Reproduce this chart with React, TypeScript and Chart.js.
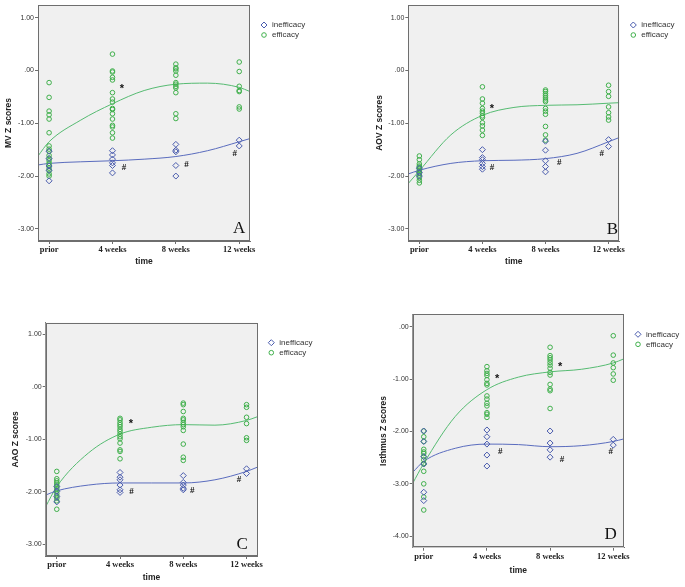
import React, { useEffect, useRef } from 'react';
import { Chart, registerables } from 'chart.js';

Chart.register(...registerables);

// ---------- shared data ----------
const categories = ['prior', '4 weeks', '8 weeks', '12 weeks'];
const legendLabels = ['inefficacy', 'efficacy'];
const xTickValues = [0, 1, 2, 3];
const fitX = [-0.175, 0, 0.5, 1, 1.5, 2, 2.5, 3, 3.17];
const yTicksABC = [1, 0, -1, -2, -3];
const yTicksD = [0, -1, -2, -3, -4];

// ---------- Panel A : MV ----------
const mvInefficacy = [
  [-1.53, -1.67, -1.81, -1.89, -2.09],
  [-1.52, -1.6, -1.68, -1.75, -1.8, -1.94],
  [-1.4, -1.51, -1.54, -1.8, -2.0],
  [-1.32, -1.43],
];
const mvEfficacy = [
  [-0.23, -0.51, -0.77, -0.84, -0.92, -1.18, -1.43, -1.49, -1.53, -1.61, -1.66, -1.71, -1.76, -1.8, -1.85, -1.9, -1.96, -2.0],
  [0.31, -0.01, -0.03, -0.13, -0.18, -0.42, -0.54, -0.6, -0.72, -0.74, -0.82, -0.92, -1.04, -1.07, -1.18, -1.28],
  [0.12, 0.05, 0.03, -0.01, -0.09, -0.23, -0.26, -0.3, -0.33, -0.42, -0.82, -0.91],
  [0.16, -0.02, -0.3, -0.38, -0.4, -0.69, -0.73],
];
const mvInefficacyFit = [-1.79, -1.76, -1.73, -1.71, -1.68, -1.63, -1.52, -1.35, -1.29];
const mvEfficacyFit = [-1.62, -1.35, -0.94, -0.63, -0.38, -0.26, -0.24, -0.32, -0.4];
const mvStars = [[1.15, -0.31]];
const mvHashes = [[1.18, -1.85], [2.17, -1.78], [2.93, -1.57]];
const mvLetterAt = [3.0, -3.0];

// ---------- Panel B : AOV ----------
const aovInefficacy = [
  [-1.85, -1.93, -2.0],
  [-1.5, -1.65, -1.69, -1.76, -1.82, -1.87],
  [-1.34, -1.51, -1.71, -1.82, -1.92],
  [-1.31, -1.44],
];
const aovEfficacy = [
  [-1.62, -1.69, -1.77, -1.81, -1.83, -1.86, -1.89, -1.92, -1.95, -1.98, -2.03, -2.08, -2.13],
  [-0.31, -0.54, -0.62, -0.72, -0.77, -0.81, -0.86, -0.89, -0.99, -1.05, -1.13, -1.23],
  [-0.37, -0.4, -0.44, -0.48, -0.52, -0.56, -0.59, -0.72, -0.77, -0.83, -1.06, -1.22, -1.32],
  [-0.28, -0.4, -0.49, -0.69, -0.8, -0.88, -0.94],
];
const aovInefficacyFit = [-1.96, -1.89, -1.76, -1.71, -1.7, -1.67, -1.57, -1.35, -1.27];
const aovEfficacyFit = [-2.14, -1.9, -1.22, -0.85, -0.7, -0.66, -0.65, -0.62, -0.61];
const aovStars = [[1.15, -0.69]];
const aovHashes = [[1.15, -1.84], [2.22, -1.74], [2.89, -1.57]];
const aovLetterAt = [3.06, -3.02];

// ---------- Panel C : AAO ----------
const aaoInefficacy = [
  [-1.9, -1.99, -2.09, -2.19],
  [-1.63, -1.72, -1.77, -1.87, -1.96, -2.01],
  [-1.69, -1.82, -1.87, -1.93, -1.96],
  [-1.56, -1.65],
];
const aaoEfficacy = [
  [-1.61, -1.75, -1.79, -1.83, -1.87, -1.9, -1.94, -1.98, -2.03, -2.07, -2.12, -2.17, -2.33],
  [-0.6, -0.63, -0.68, -0.72, -0.76, -0.81, -0.85, -0.9, -0.95, -0.99, -1.07, -1.2, -1.23, -1.37],
  [-0.31, -0.34, -0.47, -0.6, -0.63, -0.68, -0.72, -0.76, -0.83, -1.09, -1.34, -1.4],
  [-0.34, -0.39, -0.58, -0.7, -0.97, -1.02],
];
const aaoInefficacyFit = [-2.06, -1.98, -1.87, -1.83, -1.83, -1.83, -1.77, -1.61, -1.53];
const aaoEfficacyFit = [-2.28, -1.9, -1.26, -0.9, -0.77, -0.72, -0.73, -0.64, -0.57];
const aaoStars = [[1.17, -0.66]];
const aaoHashes = [[1.18, -1.99], [2.14, -1.97], [2.88, -1.77]];
const aaoLetterAt = [2.93, -3.0];

// ---------- Panel D : Isthmus ----------
const isthmusInefficacy = [
  [-1.99, -2.19, -2.48, -2.62, -3.16, -3.32],
  [-1.97, -2.1, -2.24, -2.45, -2.66],
  [-1.99, -2.22, -2.35, -2.49],
  [-2.15, -2.26],
];
const isthmusEfficacy = [
  [-1.99, -2.1, -2.19, -2.34, -2.39, -2.42, -2.48, -2.54, -2.61, -2.62, -2.76, -3.0, -3.25, -3.5],
  [-0.76, -0.84, -0.89, -0.93, -1.01, -1.08, -1.11, -1.32, -1.38, -1.46, -1.51, -1.64, -1.67, -1.73],
  [-0.39, -0.55, -0.59, -0.63, -0.68, -0.73, -0.79, -0.87, -0.92, -1.1, -1.19, -1.22, -1.56],
  [-0.17, -0.54, -0.69, -0.78, -0.9, -1.02],
];
const isthmusInefficacyFit = [-2.78, -2.57, -2.32, -2.24, -2.25, -2.29, -2.27, -2.19, -2.14];
const isthmusEfficacyFit = [-2.99, -2.61, -1.71, -1.2, -0.96, -0.86, -0.81, -0.69, -0.61];
const isthmusStars = [[1.16, -0.96], [2.16, -0.73]];
const isthmusHashes = [[1.21, -2.38], [2.19, -2.54], [2.96, -2.39]];
const isthmusLetterAt = [2.96, -3.97];

// ---------- styles ----------
const BLUE = '#4a5cae';
const BLUE_LINE = '#5a6cbe';
const GREEN = '#40b04c';
const GREEN_LINE = '#56bb72';
const FRAME = '#6e6e6e';
const PLOT_BG = '#f0f0f0';
const SANS = '"Liberation Sans", Arial, sans-serif';
const SERIF = '"Liberation Serif", "Times New Roman", serif';

const panels = [
  {
    title: 'MV Z scores', letter: 'A', ineff: mvInefficacy, eff: mvEfficacy,
    ineffFit: mvInefficacyFit, effFit: mvEfficacyFit, stars: mvStars, hashes: mvHashes, letterAt: mvLetterAt,
    yTicks: yTicksABC, yMin: -3.23, yMax: 1.24,
    box: { left: 0, top: 0, width: 340, height: 290 },
    pad: { left: 3.2, top: 5, right: 90, bottom: 22.9 }, yWidth: 34.8, xHeight: 26.1,
  },
  {
    title: 'AOV Z scores', letter: 'B', ineff: aovInefficacy, eff: aovEfficacy,
    ineffFit: aovInefficacyFit, effFit: aovEfficacyFit, stars: aovStars, hashes: aovHashes, letterAt: aovLetterAt,
    yTicks: yTicksABC, yMin: -3.23, yMax: 1.24,
    box: { left: 340, top: 0, width: 345, height: 290 },
    pad: { left: 34.2, top: 5, right: 65.7, bottom: 23.2 }, yWidth: 34.1, xHeight: 25.8,
  },
  {
    title: 'AAO Z scores', letter: 'C', ineff: aaoInefficacy, eff: aaoEfficacy,
    ineffFit: aaoInefficacyFit, effFit: aaoEfficacyFit, stars: aaoStars, hashes: aaoHashes, letterAt: aaoLetterAt,
    yTicks: yTicksABC, yMin: -3.22, yMax: 1.22,
    box: { left: 0, top: 290, width: 340, height: 297 },
    pad: { left: 10.9, top: 32.7, right: 82.7, bottom: 3.9 }, yWidth: 34.8, xHeight: 27.1,
  },
  {
    title: 'Isthmus Z scores', letter: 'D', ineff: isthmusInefficacy, eff: isthmusEfficacy,
    ineffFit: isthmusInefficacyFit, effFit: isthmusEfficacyFit, stars: isthmusStars, hashes: isthmusHashes, letterAt: isthmusLetterAt,
    yTicks: yTicksD, yMin: -4.22, yMax: 0.24,
    box: { left: 340, top: 290, width: 345, height: 297 },
    pad: { left: 38.2, top: 24.3, right: 61, bottom: 11.2 }, yWidth: 34.5, xHeight: 28.1,
  },
];

function toPoints(groups: number[][]) {
  return groups.flatMap((vals, i) => vals.map((v) => ({ x: xTickValues[i], y: v })));
}

function fmtY(v: number) {
  if (v === 0) return '.00';
  return v.toFixed(2);
}

function drawDiamond(ctx: CanvasRenderingContext2D, x: number, y: number, r: number) {
  ctx.beginPath();
  ctx.moveTo(x - r, y);
  ctx.lineTo(x, y - r);
  ctx.lineTo(x + r, y);
  ctx.lineTo(x, y + r);
  ctx.closePath();
  ctx.stroke();
}

function Panel({ p }: { p: any }) {
  const ref = useRef<HTMLCanvasElement | null>(null);

  useEffect(() => {
    const canvas = ref.current;
    if (!canvas) return;

    const decorPlugin = {
      id: 'decor' + p.letter,
      beforeDatasetsDraw(chart: any) {
        const { ctx, chartArea } = chart;
        ctx.save();
        ctx.fillStyle = PLOT_BG;
        ctx.fillRect(chartArea.left, chartArea.top, chartArea.right - chartArea.left, chartArea.bottom - chartArea.top);
        ctx.restore();
      },
      afterDraw(chart: any) {
        const { ctx, chartArea, scales } = chart;
        const xs = scales.x;
        const ys = scales.y;
        ctx.save();
        // frame
        ctx.strokeStyle = FRAME;
        ctx.lineWidth = 1;
        ctx.strokeRect(Math.round(chartArea.left) + 0.5, Math.round(chartArea.top) + 0.5,
          Math.round(chartArea.right - chartArea.left) - 1, Math.round(chartArea.bottom - chartArea.top) - 1);

        // annotations
        ctx.fillStyle = '#111';
        ctx.textAlign = 'center';
        ctx.textBaseline = 'middle';
        ctx.font = 'bold 11px ' + SANS;
        p.stars.forEach((s: number[]) => {
          ctx.fillText('*', xs.getPixelForValue(s[0]), ys.getPixelForValue(s[1]) + 2);
        });
        ctx.font = 'bold 9px ' + SERIF;
        p.hashes.forEach((h: number[]) => {
          ctx.fillText('#', xs.getPixelForValue(h[0]), ys.getPixelForValue(h[1]));
        });
        ctx.font = '17px ' + SERIF;
        ctx.fillText(p.letter, xs.getPixelForValue(p.letterAt[0]), ys.getPixelForValue(p.letterAt[1]));

        // legend
        const lx = chartArea.right + 14;
        const ly = chartArea.top + 20;
        ctx.lineWidth = 1;
        ctx.strokeStyle = BLUE;
        drawDiamond(ctx, lx, ly, 3);
        ctx.strokeStyle = GREEN;
        ctx.beginPath();
        ctx.arc(lx, ly + 10, 2.3, 0, Math.PI * 2);
        ctx.stroke();
        ctx.fillStyle = '#333';
        ctx.textAlign = 'left';
        ctx.font = '8px ' + SANS;
        ctx.fillText(legendLabels[0], lx + 8, ly);
        ctx.fillText(legendLabels[1], lx + 8, ly + 10);
        ctx.restore();
      },
    };

    const chart = new Chart(canvas, {
      type: 'scatter',
      data: {
        datasets: [
          {
            label: legendLabels[0],
            data: toPoints(p.ineff),
            pointStyle: 'rectRot',
            pointRadius: 3,
            pointBorderWidth: 1,
            borderColor: BLUE,
            backgroundColor: 'rgba(0,0,0,0)',
          },
          {
            label: legendLabels[1],
            data: toPoints(p.eff),
            pointStyle: 'circle',
            pointRadius: 2.3,
            pointBorderWidth: 1,
            borderColor: GREEN,
            backgroundColor: 'rgba(0,0,0,0)',
          },
          {
            type: 'line',
            label: legendLabels[0] + ' fit',
            data: fitX.map((x, i) => ({ x, y: p.ineffFit[i] })),
            borderColor: BLUE_LINE,
            borderWidth: 1,
            pointRadius: 0,
            fill: false,
            cubicInterpolationMode: 'monotone',
            clip: 0,
          },
          {
            type: 'line',
            label: legendLabels[1] + ' fit',
            data: fitX.map((x, i) => ({ x, y: p.effFit[i] })),
            borderColor: GREEN_LINE,
            borderWidth: 1,
            pointRadius: 0,
            fill: false,
            cubicInterpolationMode: 'monotone',
            clip: 0,
          },
        ] as any,
      },
      options: {
        responsive: false,
        animation: false,
        events: [],
        layout: { padding: p.pad },
        plugins: { legend: { display: false }, tooltip: { enabled: false } },
        scales: {
          x: {
            type: 'linear',
            min: -0.175,
            max: 3.17,
            afterBuildTicks: (scale: any) => {
              scale.ticks = xTickValues.map((v) => ({ value: v }));
            },
            afterFit: (scale: any) => {
              scale.height = p.xHeight;
              scale.paddingLeft = 0;
              scale.paddingRight = 0;
            },
            ticks: {
              autoSkip: false,
              maxRotation: 0,
              padding: 1,
              color: '#222',
              font: { family: SERIF, size: 8.5, weight: 'bold' },
              callback: (v: any) => categories[Math.round(Number(v))],
            },
            grid: { display: true, drawOnChartArea: false, drawTicks: true, tickLength: 3, color: FRAME },
            border: { display: true, color: FRAME },
            title: {
              display: true,
              text: 'time',
              color: '#222',
              padding: 0,
              font: { family: SANS, size: 8.5, weight: 'bold' },
            },
          },
          y: {
            type: 'linear',
            min: p.yMin,
            max: p.yMax,
            afterBuildTicks: (scale: any) => {
              scale.ticks = p.yTicks.map((v: number) => ({ value: v }));
            },
            afterFit: (scale: any) => {
              scale.width = p.yWidth;
              scale.paddingTop = 0;
              scale.paddingBottom = 0;
            },
            ticks: {
              autoSkip: false,
              padding: 1,
              color: '#333',
              font: { family: SANS, size: 7 },
              callback: (v: any) => fmtY(Number(v)),
            },
            grid: { display: true, drawOnChartArea: false, drawTicks: true, tickLength: 3, color: FRAME },
            border: { display: true, color: FRAME },
            title: {
              display: true,
              text: p.title,
              color: '#222',
              padding: 0,
              font: { family: SANS, size: 8.5, weight: 'bold' },
            },
          },
        },
      } as any,
      plugins: [decorPlugin],
    });

    return () => chart.destroy();
  }, [p]);

  return (
    <canvas
      ref={ref}
      width={p.box.width}
      height={p.box.height}
      style={{
        position: 'absolute',
        left: p.box.left,
        top: p.box.top,
        width: p.box.width,
        height: p.box.height,
        display: 'block',
      }}
    />
  );
}

export default function App() {
  return (
    <div style={{ position: 'absolute', left: 0, top: 0, width: 685, height: 587, background: '#fff' }}>
      {panels.map((p) => (
        <Panel key={p.letter} p={p} />
      ))}
    </div>
  );
}
